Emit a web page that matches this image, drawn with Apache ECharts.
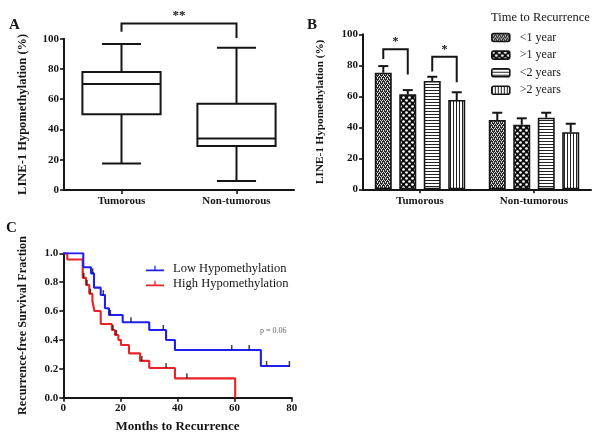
<!DOCTYPE html>
<html><head><meta charset="utf-8">
<script src="https://cdn.jsdelivr.net/npm/echarts@6/dist/echarts.min.js"></script>
<style>html,body{margin:0;padding:0;background:#fff}#c{width:602px;height:441px}</style>
</head><body><div id="c"></div>
<script>
// ---------- Panel A: box plot ----------
const boxCategories = ['Tumorous', 'Non-tumorous'];
const boxMin = [17.5, 6];
const boxQ1 = [50, 29];
const boxMedian = [70, 34];
const boxQ3 = [78, 57];
const boxMax = [96.5, 94];
const boxBracketTop = 110;
const boxBracketEnds = [104.6, 100.4];
const boxBracketLabel = '**';

// ---------- Panel B: grouped bars ----------
const barCategories = ['Tumorous', 'Non-tumorous'];
const groupNames = ['<1 year', '>1 year', '<2 years', '>2 years'];
const meanLt1Year = [75.2, 44.7];
const meanGt1Year = [61.3, 41.7];
const meanLt2Years = [69.9, 46.2];
const meanGt2Years = [57.6, 36.8];
const semLt1Year = [4.3, 4.7];
const semGt1Year = [2.7, 4.1];
const semLt2Years = [2.7, 3.2];
const semGt2Years = [5.0, 5.5];
const bracketCategory = [0, 0];
const bracketFromBar = [0, 2];
const bracketToBar = [1, 3];
const bracketTop = [90.3, 85.5];
const bracketLeftEnd = [84, 76];
const bracketRightEnd = [74, 69];
const bracketLabels = ['*', '*'];
const legendTitle = 'Time to Recurrence';

// ---------- Panel C: Kaplan-Meier ----------
const lowName = 'Low Hypomethylation';
const highName = 'High Hypomethylation';
const lowMonths =   [0, 7.0, 9.7, 10.75, 13.1, 14.6, 16.0, 20.8, 30.1, 36.0, 39.1, 69.2, 79.4];
const lowSurvival = [1.0, 0.903, 0.861, 0.762, 0.711, 0.619, 0.573, 0.522, 0.469, 0.40, 0.33, 0.22, 0.22];
const highMonths =   [0, 1.4, 6.8, 7.95, 9.1, 10.2, 10.9, 13.1, 17.0, 18.1, 19.3, 20.2, 23.0, 26.9, 30.1, 39.1, 60.2];
const highSurvival = [1.0, 0.957, 0.83, 0.78, 0.72, 0.67, 0.60, 0.51, 0.469, 0.434, 0.40, 0.365, 0.307, 0.255, 0.206, 0.134, 0];
const lowCensorMonths =   [10.3, 14.0, 16.5, 23.7, 35.0, 59.0, 65.1, 71.2, 79.2];
const lowCensorSurvival = [0.861, 0.711, 0.573, 0.522, 0.469, 0.33, 0.33, 0.22, 0.22];
const highCensorMonths =   [7.2, 8.3, 9.5, 17.4, 18.6, 27.5, 36.0, 43.3];
const highCensorSurvival = [0.83, 0.78, 0.72, 0.469, 0.434, 0.255, 0.206, 0.134];
const pValueText = 'p = 0.06';

// ---------- styling ----------
const FONT = '"Liberation Serif", "Times New Roman", serif';
const INK = '#151515';
const BLUE = '#1f1ff2';
const RED = '#ea2226';
const BAR_W = 17;
const BAR_GAP_PCT = 44;
const BAR_STEP = BAR_W * (1 + BAR_GAP_PCT / 100);

function pattern(kind) {
  const c = document.createElement('canvas');
  const ctx = c.getContext('2d');
  if (kind === 0) {
    c.width = 4; c.height = 4;
    ctx.fillStyle = '#2a2a2a'; ctx.fillRect(0, 0, 4, 4);
    ctx.fillStyle = '#d8d8d8';
    [[0,0],[2,0],[1,2],[3,2],[1,1],[3,3]].forEach(p => ctx.fillRect(p[0], p[1], 1, 1));
  } else if (kind === 1) {
    c.width = 6; c.height = 6;
    ctx.fillStyle = '#0c0c0c'; ctx.fillRect(0, 0, 6, 6);
    ctx.fillStyle = '#ffffff';
    ctx.beginPath(); ctx.arc(1.5, 1.5, 1.35, 0, Math.PI * 2); ctx.fill();
    ctx.beginPath(); ctx.arc(4.5, 4.5, 1.35, 0, Math.PI * 2); ctx.fill();
  } else if (kind === 2) {
    c.width = 3; c.height = 3;
    ctx.fillStyle = '#ffffff'; ctx.fillRect(0, 0, 3, 3);
    ctx.fillStyle = '#222'; ctx.fillRect(0, 0, 3, 1);
  } else {
    c.width = 3; c.height = 3;
    ctx.fillStyle = '#ffffff'; ctx.fillRect(0, 0, 3, 3);
    ctx.fillStyle = '#222'; ctx.fillRect(0, 0, 1, 3);
  }
  return { image: c, repeat: 'repeat' };
}

const axisLine = { show: true, lineStyle: { color: INK, width: 2 } };
const axisTick = { show: true, length: 4, lineStyle: { color: INK, width: 1.6 } };
const tickLabel = { fontFamily: FONT, fontWeight: 'bold', fontSize: 11, color: INK, margin: 5 };
const nameStyle = { fontFamily: FONT, fontWeight: 'bold', color: INK };

const chart = echarts.init(document.getElementById('c'), null, { renderer: 'canvas' });

const means = [meanLt1Year, meanGt1Year, meanLt2Years, meanGt2Years];
const sems = [semLt1Year, semGt1Year, semLt2Years, semGt2Years];

const errData = [];
means.forEach((m, g) => m.forEach((v, ci) => errData.push([ci, g, v, sems[g][ci]])));

const bracketData = bracketLabels.map((l, k) => [bracketCategory[k], bracketFromBar[k], bracketToBar[k], bracketTop[k], bracketLeftEnd[k], bracketRightEnd[k], k]);

const stroke = { stroke: INK, lineWidth: 2, fill: null };

const option = {
  animation: false,
  backgroundColor: '#fff',
  textStyle: { fontFamily: FONT },
  grid: [
    { left: 64, top: 38.7, width: 230, height: 151.3 },
    { left: 363, top: 34.3, width: 228, height: 155 },
    { left: 63.3, top: 253.3, width: 228.4, height: 144.4 }
  ],
  xAxis: [
    { gridIndex: 0, type: 'category', data: boxCategories, boundaryGap: true,
      axisLine, axisTick: Object.assign({ alignWithLabel: true }, axisTick),
      axisLabel: Object.assign({}, tickLabel, { margin: 6 }) },
    { gridIndex: 1, type: 'category', data: barCategories, boundaryGap: true,
      axisLine, axisTick: Object.assign({ alignWithLabel: true }, axisTick),
      axisLabel: Object.assign({}, tickLabel, { margin: 6 }) },
    { gridIndex: 2, type: 'value', min: 0, max: 80, interval: 20,
      axisLine, axisTick, splitLine: { show: false },
      axisLabel: Object.assign({}, tickLabel, { margin: 5 }),
      name: 'Months to Recurrence', nameLocation: 'middle', nameGap: 22,
      nameTextStyle: Object.assign({}, nameStyle, { fontSize: 13 }) }
  ],
  yAxis: [
    { gridIndex: 0, type: 'value', min: 0, max: 100, interval: 20,
      axisLine, axisTick, splitLine: { show: false }, axisLabel: tickLabel,
      name: 'LINE-1 Hypomethylation (%)', nameLocation: 'middle', nameGap: 35,
      nameTextStyle: Object.assign({}, nameStyle, { fontSize: 12.5 }) },
    { gridIndex: 1, type: 'value', min: 0, max: 100, interval: 20,
      axisLine, axisTick, splitLine: { show: false }, axisLabel: tickLabel,
      name: 'LINE-1 Hypomethylation (%)', nameLocation: 'middle', nameGap: 37,
      nameTextStyle: Object.assign({}, nameStyle, { fontSize: 11.2 }) },
    { gridIndex: 2, type: 'value', min: 0, max: 1, interval: 0.2,
      axisLine, axisTick, splitLine: { show: false },
      axisLabel: Object.assign({}, tickLabel, { formatter: v => v.toFixed(1) }),
      name: 'Recurrence-free Survival Fraction', nameLocation: 'middle', nameGap: 34,
      nameTextStyle: Object.assign({}, nameStyle, { fontSize: 12.2 }) }
  ],
  legend: [
    { data: groupNames, orient: 'vertical', left: 491, top: 31, padding: 0,
      itemWidth: 18, itemHeight: 8, itemGap: 4.6,
      itemStyle: { borderColor: INK, borderWidth: 1.6 },
      textStyle: { fontFamily: FONT, fontSize: 12, color: INK, lineHeight: 13, padding: [0, 0, 0, 5] } },
    { data: [lowName, highName], orient: 'vertical', left: 146, top: 262, padding: 0,
      icon: 'path://M0,4.2H20V6H0Z M9.3,0H10.7V4.6H9.3Z',
      itemWidth: 18, itemHeight: 5.4, itemGap: 2,
      itemStyle: { borderWidth: 0 },
      textStyle: { fontFamily: FONT, fontSize: 12.5, color: INK, lineHeight: 13, padding: [0, 0, 0, 4] } }
  ],
  graphic: [
    { type: 'text', left: 9, top: 18, style: { text: 'A', font: 'bold 15px ' + FONT, fill: INK } },
    { type: 'text', left: 307, top: 18, style: { text: 'B', font: 'bold 15px ' + FONT, fill: INK } },
    { type: 'text', left: 6, top: 221, style: { text: 'C', font: 'bold 15px ' + FONT, fill: INK } },
    { type: 'text', left: 491, top: 11, style: { text: legendTitle, font: '12.5px ' + FONT, fill: INK } },
    { type: 'text', left: 260, top: 327, style: { text: pValueText, font: '8px ' + FONT, fill: '#666' } }
  ],
  series: [
    // ---- A: box plot ----
    { type: 'custom', xAxisIndex: 0, yAxisIndex: 0, silent: true,
      data: boxCategories.map((c, i) => [i, boxMin[i], boxQ1[i], boxMedian[i], boxQ3[i], boxMax[i]]),
      renderItem: function (params, api) {
        const i = api.value(0);
        const band = api.size([1, 0])[0];
        const half = band * 0.34, cap = band * 0.17;
        const pMin = api.coord([i, api.value(1)]);
        const pQ1 = api.coord([i, api.value(2)]);
        const pMed = api.coord([i, api.value(3)]);
        const pQ3 = api.coord([i, api.value(4)]);
        const pMax = api.coord([i, api.value(5)]);
        const x = pMin[0];
        return { type: 'group', children: [
          { type: 'line', shape: { x1: x, y1: pQ3[1], x2: x, y2: pMax[1] }, style: stroke },
          { type: 'line', shape: { x1: x, y1: pQ1[1], x2: x, y2: pMin[1] }, style: stroke },
          { type: 'line', shape: { x1: x - cap, y1: pMax[1], x2: x + cap, y2: pMax[1] }, style: stroke },
          { type: 'line', shape: { x1: x - cap, y1: pMin[1], x2: x + cap, y2: pMin[1] }, style: stroke },
          { type: 'rect', shape: { x: x - half, y: pQ3[1], width: 2 * half, height: pQ1[1] - pQ3[1] }, style: { stroke: INK, lineWidth: 2, fill: '#fff' } },
          { type: 'line', shape: { x1: x - half, y1: pMed[1], x2: x + half, y2: pMed[1] }, style: stroke }
        ] };
      } },
    { type: 'custom', xAxisIndex: 0, yAxisIndex: 0, silent: true, clip: false,
      data: [[0, 1, boxBracketTop, boxBracketEnds[0], boxBracketEnds[1]]],
      renderItem: function (params, api) {
        const a = api.coord([api.value(0), api.value(2)]);
        const b = api.coord([api.value(1), api.value(2)]);
        const ya = api.coord([api.value(0), api.value(3)])[1];
        const yb = api.coord([api.value(1), api.value(4)])[1];
        return { type: 'group', children: [
          { type: 'polyline', shape: { points: [[a[0], ya], [a[0], a[1]], [b[0], b[1]], [b[0], yb]] }, style: stroke },
          { type: 'text', x: (a[0] + b[0]) / 2, y: a[1] - 1, style: { text: boxBracketLabel, font: 'bold 13px ' + FONT, fill: INK, align: 'center', verticalAlign: 'bottom' } }
        ] };
      } },
    // ---- B: bars ----
    ...groupNames.map((n, g) => ({
      type: 'bar', name: n, xAxisIndex: 1, yAxisIndex: 1, silent: true,
      barWidth: BAR_W, barGap: BAR_GAP_PCT + '%',
      data: means[g],
      itemStyle: { color: pattern(g), borderColor: INK, borderWidth: 1.6 }
    })),
    { type: 'custom', xAxisIndex: 1, yAxisIndex: 1, silent: true, z: 5, clip: false,
      data: errData,
      renderItem: function (params, api) {
        const ci = api.value(0), g = api.value(1), m = api.value(2), s = api.value(3);
        const base = api.coord([ci, m]);
        const top = api.coord([ci, m + s]);
        const x = base[0] + (g - 1.5) * BAR_STEP;
        return { type: 'group', children: [
          { type: 'line', shape: { x1: x, y1: base[1], x2: x, y2: top[1] }, style: stroke },
          { type: 'line', shape: { x1: x - 5, y1: top[1], x2: x + 5, y2: top[1] }, style: stroke }
        ] };
      } },
    { type: 'custom', xAxisIndex: 1, yAxisIndex: 1, silent: true, z: 5, clip: false,
      data: bracketData,
      renderItem: function (params, api) {
        const ci = api.value(0);
        const c = api.coord([ci, api.value(3)]);
        const xa = c[0] + (api.value(1) - 1.5) * BAR_STEP;
        const xb = c[0] + (api.value(2) - 1.5) * BAR_STEP;
        const ya = api.coord([ci, api.value(4)])[1];
        const yb = api.coord([ci, api.value(5)])[1];
        return { type: 'group', children: [
          { type: 'polyline', shape: { points: [[xa, ya], [xa, c[1]], [xb, c[1]], [xb, yb]] }, style: stroke },
          { type: 'text', x: (xa + xb) / 2, y: c[1] - 1, style: { text: bracketLabels[api.value(6)], font: 'bold 12px ' + FONT, fill: INK, align: 'center', verticalAlign: 'bottom' } }
        ] };
      } },
    // ---- C: Kaplan-Meier ----
    { type: 'line', name: lowName, xAxisIndex: 2, yAxisIndex: 2, step: 'end', silent: true,
      showSymbol: false, symbol: 'none', color: BLUE, z: 3,
      lineStyle: { color: BLUE, width: 2.1 },
      data: lowMonths.map((m, i) => [m, lowSurvival[i]]) },
    { type: 'line', name: highName, xAxisIndex: 2, yAxisIndex: 2, step: 'end', silent: true,
      showSymbol: false, symbol: 'none', color: RED, z: 2,
      lineStyle: { color: RED, width: 2.1 },
      data: highMonths.map((m, i) => [m, highSurvival[i]]) },
    { type: 'scatter', name: 'lowCensor', xAxisIndex: 2, yAxisIndex: 2, silent: true, z: 4,
      symbol: 'rect', symbolSize: [1.5, 5], symbolOffset: [0, '-50%'],
      itemStyle: { color: '#111' },
      data: lowCensorMonths.map((m, i) => [m, lowCensorSurvival[i]]) },
    { type: 'scatter', name: 'highCensor', xAxisIndex: 2, yAxisIndex: 2, silent: true, z: 4,
      symbol: 'rect', symbolSize: [1.5, 5], symbolOffset: [0, '-50%'],
      itemStyle: { color: '#111' },
      data: highCensorMonths.map((m, i) => [m, highCensorSurvival[i]]) }
  ]
};
chart.setOption(option);
</script>
</body></html>
